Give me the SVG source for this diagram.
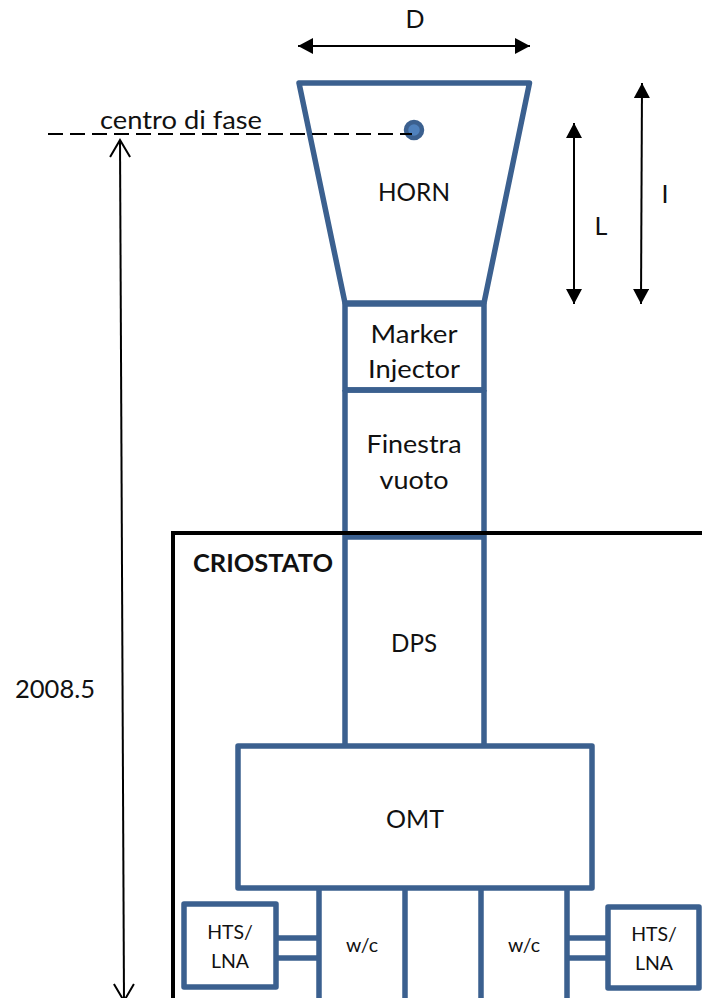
<svg xmlns="http://www.w3.org/2000/svg" width="702" height="998" viewBox="0 0 702 998">
<style>
.b{fill:#fff;stroke:#3b608f;stroke-width:5.5;stroke-linejoin:round}
.l{fill:none;stroke:#3b608f;stroke-width:5.5}
.k{fill:none;stroke:#000;stroke-width:2}
text{font-family:Lato,"Liberation Sans",sans-serif;font-size:25px;fill:#111;text-anchor:middle}
.s{font-size:19.5px}
</style>
<defs>
<marker id="f" markerUnits="userSpaceOnUse" markerWidth="16" markerHeight="16" refX="15" refY="8" orient="auto-start-reverse"><path d="M0 0L15 8L0 16Z" fill="#000"/></marker>
<marker id="o" markerUnits="userSpaceOnUse" markerWidth="24" markerHeight="24" refX="18" refY="11" orient="auto-start-reverse"><path d="M1 1L18 11L1 21" fill="none" stroke="#000" stroke-width="2"/></marker>
</defs>
<rect width="702" height="998" fill="#fff"/>
<g id="horn"><path class="b" d="M299 83H529.500L484 303H345Z"/><text x="414" y="201" textLength="72" lengthAdjust="spacingAndGlyphs">HORN</text></g>
<g id="marker-injector"><rect class="b" x="345" y="304" width="139" height="86"/><text x="414" y="343" textLength="87" lengthAdjust="spacingAndGlyphs">Marker</text><text x="414" y="378" textLength="92" lengthAdjust="spacingAndGlyphs">Injector</text></g>
<g id="finestra-vuoto"><path class="l" d="M345 390H484M345 390V535M484 390V535"/><text x="414" y="453" textLength="95" lengthAdjust="spacingAndGlyphs">Finestra</text><text x="414" y="489" textLength="69" lengthAdjust="spacingAndGlyphs">vuoto</text></g>
<g id="dps"><path class="l" d="M345 537H484M345 535V746M484 535V746"/><text x="414" y="652" textLength="46" lengthAdjust="spacingAndGlyphs">DPS</text></g>
<g id="omt"><rect class="b" x="238" y="746" width="354" height="142"/><text x="415" y="828" textLength="58" lengthAdjust="spacingAndGlyphs">OMT</text></g>
<g id="wc-left"><path class="l" d="M319 888V998M405 888V998"/><text class="s" x="362" y="952">w/c</text></g>
<g id="wc-right"><path class="l" d="M481 888V998M567 888V998"/><text class="s" x="524" y="952">w/c</text></g>
<g id="hts-left"><rect class="b" x="184" y="904" width="92" height="83"/><text class="s" x="230" y="939">HTS/</text><text class="s" x="230" y="968">LNA</text></g>
<g id="hts-right"><rect class="b" x="608" y="907" width="91" height="81"/><text class="s" x="654" y="941">HTS/</text><text class="s" x="654" y="970">LNA</text></g>
<g id="criostato"><path d="M173 998V533H702" fill="none" stroke="#000" stroke-width="4"/><text x="263" y="572" style="font-weight:700" textLength="140" lengthAdjust="spacingAndGlyphs">CRIOSTATO</text></g>
<g id="phase-centre"><circle cx="414" cy="130" r="8" fill="#4f81bd" stroke="#3b608f" stroke-width="4.500"/><text x="181" y="129" textLength="162" lengthAdjust="spacingAndGlyphs">centro di fase</text></g>
<g id="connectors">
<path class="l" d="M276 938H319M276 958H319M567 938H608M567 958H608"/>
<path d="M48 134H412" fill="none" stroke="#000" stroke-width="2" stroke-dasharray="15 7"/>
<path class="k" d="M298 46H530" marker-start="url(#f)" marker-end="url(#f)"/>
<path class="k" d="M574 123V304" marker-start="url(#f)" marker-end="url(#f)"/>
<path class="k" d="M642 83L641 304" marker-start="url(#f)" marker-end="url(#f)"/>
<path class="k" d="M120 140L124 1001" marker-start="url(#o)" marker-end="url(#o)"/>
</g>
<text x="415" y="28">D</text>
<text x="601" y="235">L</text>
<text x="665" y="203">I</text>
<text x="55" y="698" textLength="80" lengthAdjust="spacingAndGlyphs">2008.5</text>
</svg>
